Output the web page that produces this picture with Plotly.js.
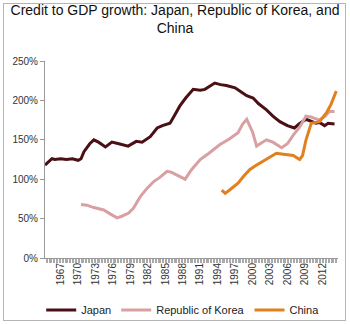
<!DOCTYPE html>
<html><head><meta charset="utf-8">
<script src="https://cdn.plot.ly/plotly-3.0.1.min.js"></script>
<style>html,body{margin:0;padding:0;background:#fff}#wrap{position:relative;width:350px;height:324px}#c{width:350px;height:324px}#frame{position:absolute;left:3px;top:3px;width:341px;height:316px;border:1px solid #b5b5b5;pointer-events:none}</style>
</head><body><div id="wrap"><div id="c"></div><div id="frame"></div></div>
<script>
const japanX = [1964.3,1965,1965.5,1966,1967,1968,1969,1970,1970.5,1971,1972,1972.7,1973.5,1974.7,1975.8,1977,1978.6,1980,1981,1982.4,1983.6,1984.5,1985.8,1986.5,1987.5,1988.5,1989.8,1991,1991.8,1993.5,1994.5,1995.5,1997,1997.8,1999,2000.1,2001,2002.4,2003.5,2004.7,2006,2007.2,2008,2009.2,2010,2010.9,2011.5,2012.4,2013,2014.1];
const japanY = [118,122,126,125,126,125,126,124,126,135,145,150,147,141,147,145,142,148,147,154,165,168,171,180,193,203,214,213,214,222,220,219,216,212,206,203,196,188,180,173,168,165,170,176,174,171,172,168,171,170];
const koreaX = [1970.5,1971.5,1972.7,1973.5,1974.4,1975.5,1976.7,1977.5,1978.7,1979.5,1980.7,1981.8,1983,1984,1985.3,1986,1987,1988.4,1989.5,1991,1992.5,1994.4,1996,1997.5,1998.3,1999,2000,2000.7,2001.5,2002.4,2003.5,2005,2006,2007,2008,2009.2,2010,2011.5,2012.5,2013.2,2014.1];
const koreaY = [68,67,64,63,61,56,51,53,57,63,78,88,97,102,110,109,105,100,112,125,133,144,151,159,170,176,160,142,146,150,147,140,145,156,165,180,179,175,180,186,186];
const chinaX = [1994.7,1995.3,1996,1997.5,1998.5,1999.5,2000.5,2001.2,2002.4,2003,2004.1,2005,2006.4,2007,2008.1,2008.6,2009.2,2010.1,2011.5,2012.7,2013.5,2014,2014.4];
const chinaY = [86,82,86,95,104,112,117,120,125,128,133,132,131,130,125,130,150,171,173,184,195,205,212];
const tickYears = [1967,1970,1973,1976,1979,1982,1985,1988,1991,1994,1997,2000,2003,2006,2009,2012];

const traces = [
  {x: japanX, y: japanY, name: 'Japan', mode: 'lines', line: {color: '#4a1016', width: 3}},
  {x: koreaX, y: koreaY, name: 'Republic of Korea', mode: 'lines', line: {color: '#d9a0a3', width: 3}},
  {x: chinaX, y: chinaY, name: 'China', mode: 'lines', line: {color: '#e2801e', width: 3}}
];
const layout = {
  width: 350, height: 324,
  margin: {l: 45, r: 12, t: 61, b: 66, autoexpand: false},
  paper_bgcolor: '#fff', plot_bgcolor: '#fff',
  font: {family: 'Liberation Sans, Arial, sans-serif', color: '#333', size: 10},
  title: {text: 'Credit to GDP growth: Japan, Republic of Korea, and<br>China', x: 0.5, xref: 'container', xanchor: 'center', y: 0.955, yref: 'container', yanchor: 'middle', font: {family: 'Liberation Sans, sans-serif', size: 14, color: '#111'}},
  showlegend: true,
  legend: {orientation: 'h', x: 0.47, xanchor: 'center', y: -0.19, yanchor: 'top', font: {size: 11, color: '#222'}, itemwidth: 30, tracegroupgap: 0},
  xaxis: {range: [1964.3, 2014.7], tickmode: 'array', tickvals: tickYears, ticktext: tickYears.map(String), tickangle: -90, automargin: false,
    showgrid: false, zeroline: false, showline: true, linecolor: '#999', ticks: '', tickfont: {size: 10, color: '#333'},
    minor: {tickmode: 'linear', tick0: 1964.25, dtick: 0.25, ticks: 'outside', ticklen: 4, tickcolor: '#aaa', tickwidth: 1, showgrid: false}},
  yaxis: {range: [0, 250], tickvals: [0,50,100,150,200,250], ticktext: ['0%','50%','100%','150%','200%','250%'], automargin: false,
    showgrid: false, zeroline: false, showline: true, linecolor: '#999', ticks: 'outside', ticklen: 4, tickcolor: '#999', tickfont: {size: 10, color: '#333'}}
};
Plotly.newPlot('c', traces, layout, {displayModeBar: false, staticPlot: true});
</script></body></html>
